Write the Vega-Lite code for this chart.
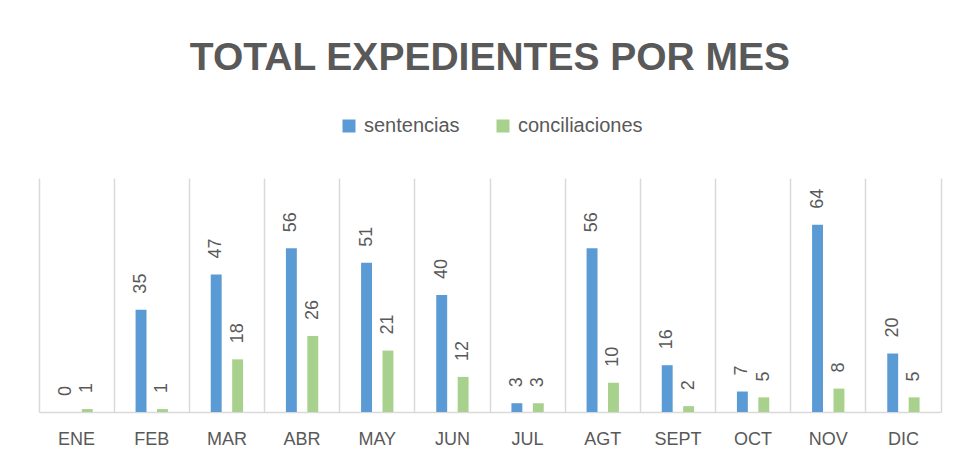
{
  "$schema": "https://vega.github.io/schema/vega-lite/v6.json",
  "width": 902,
  "height": 234,
  "autosize": {"type": "none"},
  "padding": {"left": 39, "top": 178, "right": 14, "bottom": 49},
  "background": "white",
  "title": {
    "text": "TOTAL EXPEDIENTES POR MES",
    "font": "Liberation Sans",
    "fontSize": 39,
    "fontWeight": "bold",
    "color": "#595959",
    "anchor": "middle",
    "offset": 38
  },
  "data": {
    "values": [
      {"mes": "ENE", "tipo": "sentencias", "valor": 0},
      {"mes": "ENE", "tipo": "conciliaciones", "valor": 1},
      {"mes": "FEB", "tipo": "sentencias", "valor": 35},
      {"mes": "FEB", "tipo": "conciliaciones", "valor": 1},
      {"mes": "MAR", "tipo": "sentencias", "valor": 47},
      {"mes": "MAR", "tipo": "conciliaciones", "valor": 18},
      {"mes": "ABR", "tipo": "sentencias", "valor": 56},
      {"mes": "ABR", "tipo": "conciliaciones", "valor": 26},
      {"mes": "MAY", "tipo": "sentencias", "valor": 51},
      {"mes": "MAY", "tipo": "conciliaciones", "valor": 21},
      {"mes": "JUN", "tipo": "sentencias", "valor": 40},
      {"mes": "JUN", "tipo": "conciliaciones", "valor": 12},
      {"mes": "JUL", "tipo": "sentencias", "valor": 3},
      {"mes": "JUL", "tipo": "conciliaciones", "valor": 3},
      {"mes": "AGT", "tipo": "sentencias", "valor": 56},
      {"mes": "AGT", "tipo": "conciliaciones", "valor": 10},
      {"mes": "SEPT", "tipo": "sentencias", "valor": 16},
      {"mes": "SEPT", "tipo": "conciliaciones", "valor": 2},
      {"mes": "OCT", "tipo": "sentencias", "valor": 7},
      {"mes": "OCT", "tipo": "conciliaciones", "valor": 5},
      {"mes": "NOV", "tipo": "sentencias", "valor": 64},
      {"mes": "NOV", "tipo": "conciliaciones", "valor": 8},
      {"mes": "DIC", "tipo": "sentencias", "valor": 20},
      {"mes": "DIC", "tipo": "conciliaciones", "valor": 5}
    ]
  },
  "encoding": {
    "x": {
      "field": "mes",
      "type": "nominal",
      "sort": null,
      "scale": {"paddingInner": 0, "paddingOuter": 0},
      "axis": {
        "title": null,
        "labelAngle": 0,
        "labelFont": "Liberation Sans",
        "labelFontSize": 18,
        "labelColor": "#595959",
        "labelPadding": 18,
        "ticks": false,
        "domainColor": "#d9d9d9",
        "domainWidth": 1.5,
        "grid": true,
        "gridColor": "#d9d9d9",
        "gridWidth": 1.5,
        "bandPosition": 0
      }
    },
    "xOffset": {
      "field": "tipo",
      "type": "nominal",
      "sort": ["sentencias", "conciliaciones"],
      "scale": {"paddingInner": 0.49, "paddingOuter": 1.15}
    },
    "y": {
      "field": "valor",
      "type": "quantitative",
      "scale": {"domain": [0, 80], "nice": false},
      "axis": {
        "orient": "right",
        "title": null,
        "labels": false,
        "ticks": false,
        "grid": false,
        "domain": true,
        "domainColor": "#d9d9d9",
        "domainWidth": 1.5
      }
    }
  },
  "layer": [
    {
      "mark": {"type": "bar"},
      "encoding": {
        "color": {
          "field": "tipo",
          "type": "nominal",
          "scale": {"domain": ["sentencias", "conciliaciones"], "range": ["#5b9bd5", "#a9d18e"]},
          "legend": {
            "title": null,
            "orient": "none",
            "direction": "horizontal",
            "legendX": 300,
            "legendY": -62,
            "symbolType": "square",
            "symbolSize": 169,
            "symbolStrokeWidth": 0,
            "symbolOpacity": 1,
            "labelFont": "Liberation Sans",
            "labelFontSize": 20,
            "labelColor": "#595959",
            "labelOffset": 5,
            "columnPadding": 33
          }
        }
      }
    },
    {
      "mark": {
        "type": "text",
        "angle": -90,
        "align": "left",
        "baseline": "middle",
        "dx": 16,
        "font": "Liberation Sans",
        "fontSize": 18,
        "color": "#595959"
      },
      "encoding": {
        "text": {"field": "valor", "type": "quantitative"}
      }
    }
  ],
  "config": {
    "view": {"stroke": null}
  }
}
